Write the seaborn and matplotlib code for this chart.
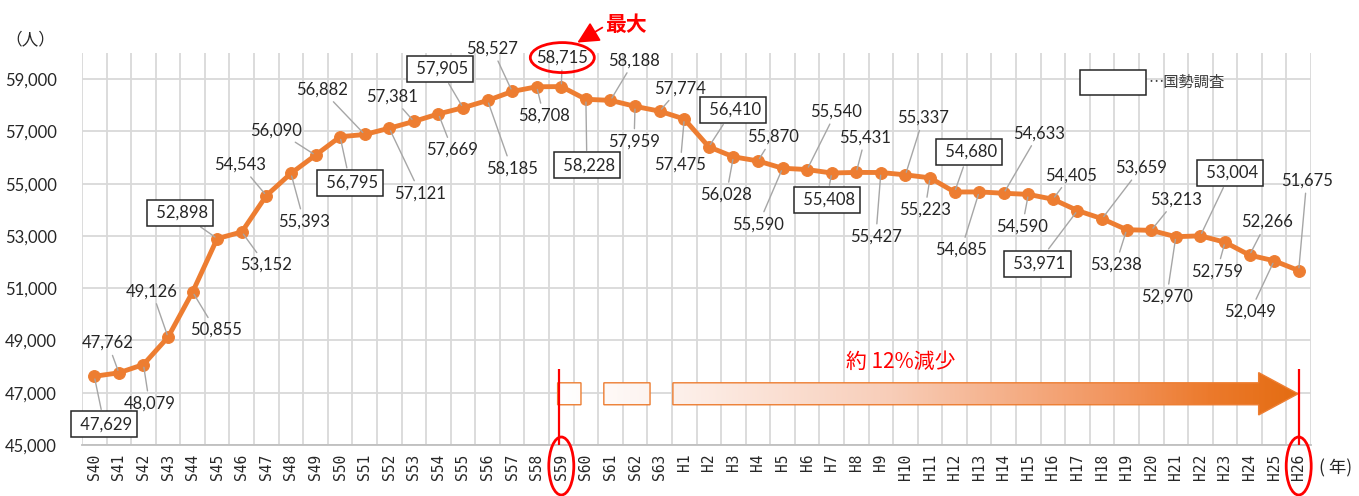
import numpy as np
import pandas as pd
import matplotlib
matplotlib.use("Agg")
import matplotlib.pyplot as plt
import matplotlib.patches as mpatches
import matplotlib.transforms as mtransforms
from matplotlib.path import Path
from matplotlib.colors import LinearSegmentedColormap
import seaborn as sns

# ---------------- data ----------------
categories = (["S%d" % y for y in range(40, 64)] + ["H%d" % y for y in range(1, 27)])
population = [47629, 47762, 48079, 49126, 50855, 52898, 53152, 54543, 55393, 56090,
              56795, 56882, 57121, 57381, 57669, 57905, 58185, 58527, 58708, 58715,
              58228, 58188, 57959, 57774, 57475, 56410, 56028, 55870, 55590, 55540,
              55408, 55431, 55427, 55337, 55223, 54680, 54685, 54633, 54590, 54405,
              53971, 53659, 53238, 53213, 52970, 53004, 52759, 52266, 52049, 51675]
census_years = ["S40", "S45", "S50", "S55", "S60", "H2", "H7", "H12", "H17", "H22"]
peak_year = "S59"
last_year = "H26"
y_ticks = [45000, 47000, 49000, 51000, 53000, 55000, 57000, 59000]

# label layout (pixel offsets of label centre from its point)
label_offsets = [(10, -48), (-11, 30), (6, -39), (-16, 46), (23, -38), (-37, 26), (24, -33),
                 (-26, 31), (13, -48), (-39, 25), (10, -46), (-43, 45), (31, -65), (-22, 25),
                 (14, -36), (-23, 39), (24, -68), (-20, 43), (7, -29), (1, 29), (1, -66),
                 (24, 40), (-1, -35), (20, 23), (-4, -46), (24, 37), (-7, -38), (15, 24),
                 (-24, -56), (29, 58), (-5, -27), (9, 35), (-5, -64), (18, 57), (-5, -32),
                 (14, 40), (-18, -58), (35, 60), (-6, -32), (18, 24), (-40, -53), (39, 51),
                 (-11, -35), (25, 31), (-9, -60), (30, 63), (-8, -29), (17, 33), (-24, -51),
                 (8, 90)]

df = pd.DataFrame({"idx": np.arange(len(categories)), "year": categories, "pop": population})

# ---------------- style ----------------
sns.set_theme(style="white")
plt.rcParams["font.family"] = ["Lato", "Noto Sans CJK JP", "DejaVu Sans"]

W, H = 1359, 496
fig = plt.figure(figsize=(W / 100, H / 100), dpi=100)
ax = fig.add_axes([82 / W, 1 - 445 / H, (1311 - 82) / W, (445 - 53) / H])

orange = "#ED7D31"
sns.lineplot(data=df, x="idx", y="pop", ax=ax, color=orange, linewidth=3.5,
             marker="o", markersize=8.5, markeredgecolor=orange, zorder=3)

n = len(categories)
ax.set_xlim(-0.5, n - 0.5)
ax.set_ylim(45000, 60000)
ax.set_xticks(np.arange(n))
ax.set_xticklabels(categories, rotation=90, fontsize=10.5, family="DejaVu Sans Mono",
                   color="#262626")
ax.set_xticks(np.arange(-0.5, n, 1), minor=True)
ax.set_yticks(y_ticks)
ax.set_yticklabels([f"{v:,}" for v in y_ticks], fontsize=12, color="#262626")
ax.tick_params(axis="both", which="both", length=0)
ax.tick_params(axis="x", pad=6)
ax.tick_params(axis="y", pad=18)
ax.grid(which="minor", axis="x", color="#D9D9D9", lw=1.3)
ax.grid(which="major", axis="y", color="#D9D9D9", lw=1.3)
ax.grid(which="major", axis="x", visible=False)
ax.set_axisbelow(True)
for s in ["top", "right", "left"]:
    ax.spines[s].set_visible(False)
ax.spines["bottom"].set_color("#BFBFBF")
ax.spines["bottom"].set_linewidth(1.3)
ax.set_xlabel("")
ax.set_ylabel("")

# ---------------- data labels ----------------
i_peak = categories.index(peak_year)
i_last = categories.index(last_year)
for i, (cat, v) in enumerate(zip(categories, population)):
    dx, dy = label_offsets[i]
    kw = {}
    txt = f"{v:,}"
    if cat in census_years:
        kw["bbox"] = dict(boxstyle="square,pad=0.3", fc="white", ec="#262626", lw=1.1)
        txt = " " + txt
    ax.annotate(txt, xy=(i, v), xytext=(dx, dy), textcoords="offset pixels",
                ha="center", va="center", fontsize=12, color="#262626", zorder=4,
                arrowprops=dict(arrowstyle="-", color="#A6A6A6", lw=1,
                                shrinkA=1, shrinkB=2), **kw)

# peak ellipse around label
pt_trans = mtransforms.ScaledTranslation(i_peak, population[i_peak], ax.transData)
ell = mpatches.Ellipse((0, 0), 64, 30, fc="none", ec="red", lw=2,
                       transform=mtransforms.Affine2D().translate(1, 29) + pt_trans,
                       clip_on=False, zorder=5)
ax.add_artist(ell)
ax.annotate("", xy=(16, 44), xycoords=mtransforms.Affine2D() + pt_trans,
            xytext=(41, 59), textcoords=mtransforms.Affine2D() + pt_trans,
            arrowprops=dict(arrowstyle="-|>,head_length=1.1,head_width=0.55",
                            color="red", lw=1.3, shrinkA=0, shrinkB=0))
ax.annotate("最大", xy=(i_peak, population[i_peak]), xytext=(65, 62),
            textcoords="offset pixels", ha="center", va="center", fontsize=15,
            color="red", fontweight="bold", family=["Noto Sans CJK JP"])

# ---------------- decrease arrow ----------------
blend = mtransforms.blended_transform_factory(ax.transData, ax.transAxes)
for ii in (i_peak, i_last):
    ax.vlines(ii - 0.1 if ii == i_peak else ii, 45000, 47900, color="red", lw=1.6, zorder=4)
    e = mpatches.Ellipse((0, 0), 25, 58, fc="none", ec="red", lw=2, clip_on=False,
                         transform=mtransforms.Affine2D().translate(0, -21)
                         + mtransforms.ScaledTranslation(ii, 0, blend), zorder=5)
    ax.add_artist(e)

yb0, yb1 = 46540, 47380
yh0, yh1 = 46150, 47770
x_b1 = (i_peak - 0.15, i_peak + 0.8)
x_b2 = (i_peak + 1.73, i_peak + 3.61)
x_m0 = i_peak + 4.54
x_hb = i_last - 1.63
x_tip = i_last - 0.03

def rect(x0, x1):
    return [(x0, yb0), (x1, yb0), (x1, yb1), (x0, yb1), (x0, yb0)]

shapes = [rect(*x_b1), rect(*x_b2),
          [(x_m0, yb0), (x_hb, yb0), (x_hb, yh0), (x_tip, (yh0 + yh1) / 2),
           (x_hb, yh1), (x_hb, yb1), (x_m0, yb1), (x_m0, yb0)]]
verts, codes = [], []
for s in shapes:
    verts += s
    codes += [Path.MOVETO] + [Path.LINETO] * (len(s) - 2) + [Path.CLOSEPOLY]
clip_path = Path(verts, codes)

cmap = LinearSegmentedColormap.from_list(
    "grad", [(0, "#FFFFFF"), (0.15, "#FDF1EC"), (0.45, "#F8CDB8"),
             (0.75, "#F2955E"), (0.88, "#EC7A2C"), (1, "#E46C12")])
grad = np.linspace(0, 1, 400).reshape(1, -1)
im = ax.imshow(grad, cmap=cmap, aspect="auto",
               extent=(x_b1[0], x_tip, yh0, yh1), zorder=2, interpolation="bilinear")
clip_patch = mpatches.PathPatch(clip_path, transform=ax.transData, fc="none", ec="none")
ax.add_patch(clip_patch)
im.set_clip_path(clip_patch)
ax.add_patch(mpatches.PathPatch(clip_path, fc="none", ec="#ED7D31", lw=1, zorder=2.5))
ax.set_xlim(-0.5, n - 0.5)
ax.set_ylim(45000, 60000)

ax.text((x_m0 + x_tip) / 2 - 3.45, 48180, "約 12%減少", ha="center", va="center",
        fontsize=15, color="red", family=["Noto Sans CJK JP"])

# ---------------- extra texts ----------------
fig.text(30 / W, 1 - 40 / H, "（人）", ha="center", va="center", fontsize=12,
         color="#262626", family=["Noto Sans CJK JP"])
fig.text(1319 / W, 1 - 468 / H, "( 年)", ha="left", va="center", fontsize=12.5,
         color="#262626", family=["Noto Sans CJK JP"])
fig.add_artist(mpatches.Rectangle((1080 / W, 1 - 95 / H), 66 / W, 25 / H, fc="white",
                                  ec="#262626", lw=1.1, transform=fig.transFigure))
fig.text(1148 / W, 1 - 82 / H, "…国勢調査", ha="left", va="center", fontsize=11,
         color="#404040", family=["Noto Sans CJK JP"])

fig.savefig("out.png", dpi=100)
